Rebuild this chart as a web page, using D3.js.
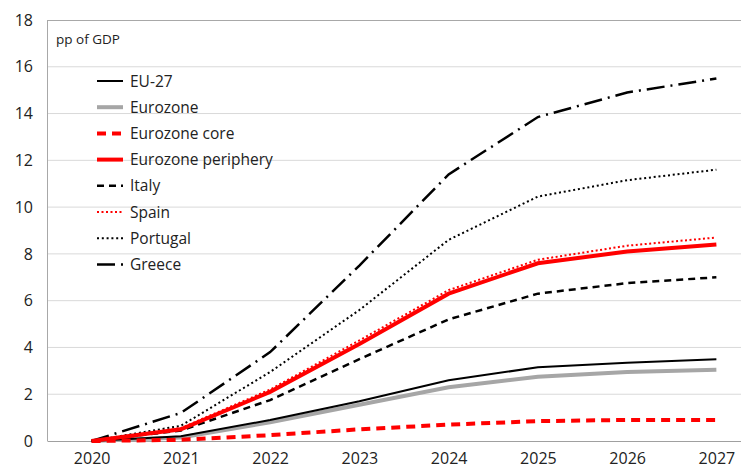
<!DOCTYPE html>
<html><head><meta charset="utf-8">
<script src="https://cdn.jsdelivr.net/npm/d3@7"></script>
<style>body{margin:0;background:#fff}svg{display:block}text{font-family:"Open Sans",Calibri,sans-serif;fill:#222}</style>
</head><body><svg id="c" width="741" height="473"></svg>
<script>
const years = ["2020","2021","2022","2023","2024","2025","2026","2027"];
const yTicks = [0,2,4,6,8,10,12,14,16,18];
const seriesNames = ["EU-27","Eurozone","Eurozone core","Eurozone periphery","Italy","Spain","Portugal","Greece"];
const eu27      = [0,0.2,0.9,1.7,2.6,3.15,3.35,3.5];
const eurozone  = [0,0.15,0.8,1.55,2.3,2.75,2.95,3.05];
const ezCore    = [0,0.05,0.25,0.5,0.7,0.85,0.9,0.9];
const ezPeriph  = [0,0.5,2.1,4.15,6.3,7.6,8.1,8.4];
const italy     = [0,0.45,1.75,3.5,5.2,6.3,6.75,7.0];
const spain     = [0,0.55,2.2,4.3,6.45,7.75,8.35,8.7];
const portugal  = [0,0.65,2.95,5.6,8.6,10.45,11.15,11.6];
const greece    = [0,1.2,3.8,7.5,11.4,13.85,14.9,15.5];
const values = [eu27,eurozone,ezCore,ezPeriph,italy,spain,portugal,greece];
const styles = [
 {c:"#000",w:2,d:null},
 {c:"#a6a6a6",w:4,d:null},
 {c:"#ff0000",w:4,d:"9,6"},
 {c:"#ff0000",w:4,d:null},
 {c:"#000",w:2.5,d:"7,5"},
 {c:"#ff0000",w:2,d:"2,2.5"},
 {c:"#000",w:2,d:"2,2.8"},
 {c:"#000",w:2.5,d:"18,6,2,6"}
];
const svg = d3.select("#c");
const L=47, T=20, R=761, B=441;
const x = d3.scalePoint().domain(years).range([L,R]).padding(0.5);
const y = d3.scaleLinear().domain([0,18]).range([B,T]);
// gridlines
svg.append("g").selectAll("line").data(yTicks.filter(t=>t>0&&t<18)).join("line")
 .attr("x1",L).attr("x2",R).attr("y1",d=>y(d)).attr("y2",d=>y(d))
 .attr("stroke","#d9d9d9").attr("stroke-width",1);
// border top + left
svg.append("line").attr("x1",L).attr("x2",R).attr("y1",y(18)+0.5).attr("y2",y(18)+0.5).attr("stroke","#a8a8a8");
svg.append("line").attr("x1",L+0.5).attr("x2",L+0.5).attr("y1",T).attr("y2",B).attr("stroke","#a8a8a8");
// y labels
const ya = d3.axisLeft(y).tickValues(yTicks).tickSize(0).tickPadding(14);
const gy = svg.append("g").attr("transform",`translate(${L},0)`).call(ya);
gy.select(".domain").remove();
gy.selectAll("text").style("font-size","16px").attr("fill","#222");
// x axis
const xa = d3.axisBottom(x).tickSize(0).tickPadding(12);
const gx = svg.append("g").attr("transform",`translate(0,${B})`).call(xa);
gx.select(".domain").attr("stroke","#a0a0a0");
gx.selectAll("text").style("font-size","16px").attr("fill","#222");
// lines
const line = d3.line().x((d,i)=>x(years[i])).y(d=>y(d));
const order=[1,0,2,4,6,7,5,3];
order.forEach(k=>{
 const s=styles[k];
 svg.append("path").datum(values[k]).attr("d",line).attr("fill","none")
  .attr("stroke",s.c).attr("stroke-width",s.w).attr("stroke-dasharray",s.d);
});
// label
svg.append("text").attr("x",56).attr("y",44).style("font-size","13.5px").text("pp of GDP");
// legend
const lg = svg.append("g");
seriesNames.forEach((n,i)=>{
 const yy = 81 + i*26.2;
 const s=styles[i];
 lg.append("line").attr("x1",97).attr("x2",123).attr("y1",yy).attr("y2",yy)
  .attr("stroke",s.c).attr("stroke-width",s.w).attr("stroke-dasharray",s.d);
 lg.append("text").attr("x",130).attr("y",yy+5.5).style("font-size","15.5px").text(n);
});
</script></body></html>
